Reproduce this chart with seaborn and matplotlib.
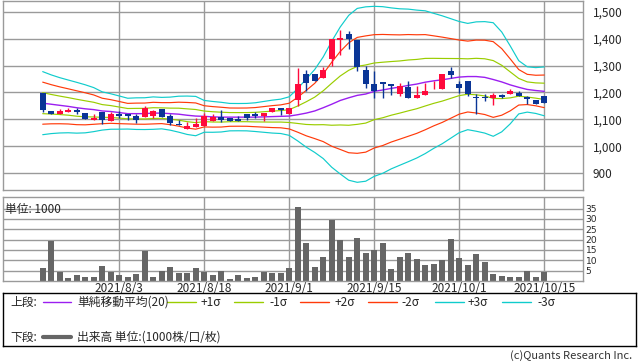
import numpy as np
import pandas as pd
import matplotlib
matplotlib.use('Agg')
import matplotlib.pyplot as plt
import seaborn as sns

# trading days (Japanese market holidays skipped)
holidays = ['2021-07-22', '2021-07-23', '2021-08-09', '2021-09-20', '2021-09-23']
dates = pd.bdate_range('2021-07-19', '2021-10-15', freq='C', holidays=holidays)

opens = [1197, 1130, 1119, 1126, 1135, 1123, 1099, 1127, 1094, 1120,
         1120, 1111, 1109, 1114, 1140, 1111, 1083, 1064, 1072, 1074,
         1094, 1110, 1105, 1100, 1119, 1119, 1111, 1126, 1143, 1121,
         1173, 1267, 1267, 1253, 1325, 1394, 1417, 1395, 1285, 1232,
         1237, 1232, 1195, 1220, 1179, 1191, 1241, 1212, 1281, 1230,
         1241, 1183, 1183, 1179, 1189, 1195, 1197, 1183, 1170, 1185]
highs = [1199, 1130, 1140, 1142, 1141, 1123, 1118, 1127, 1127, 1129,
         1120, 1120, 1148, 1136, 1140, 1121, 1099, 1089, 1106, 1125,
         1118, 1133, 1105, 1111, 1119, 1126, 1125, 1143, 1143, 1143,
         1291, 1284, 1267, 1294, 1399, 1432, 1430, 1395, 1300, 1281,
         1237, 1232, 1235, 1244, 1222, 1235, 1244, 1270, 1296, 1244,
         1244, 1193, 1195, 1197, 1195, 1211, 1204, 1187, 1170, 1185]
lows = [1127, 1119, 1119, 1126, 1119, 1101, 1099, 1081, 1094, 1106,
        1099, 1086, 1109, 1104, 1109, 1080, 1079, 1064, 1072, 1074,
        1094, 1090, 1094, 1095, 1099, 1106, 1094, 1126, 1117, 1121,
        1148, 1207, 1244, 1253, 1300, 1341, 1362, 1279, 1216, 1179,
        1180, 1192, 1185, 1179, 1179, 1191, 1211, 1212, 1254, 1198,
        1185, 1119, 1168, 1155, 1179, 1195, 1187, 1156, 1157, 1160]
closes = [1133, 1119, 1131, 1133, 1127, 1101, 1106, 1099, 1119, 1114,
          1112, 1099, 1142, 1130, 1109, 1086, 1079, 1074, 1083, 1111,
          1109, 1099, 1094, 1095, 1103, 1111, 1125, 1143, 1133, 1143,
          1230, 1234, 1244, 1284, 1399, 1403, 1399, 1296, 1232, 1207,
          1232, 1223, 1222, 1179, 1191, 1204, 1244, 1267, 1264, 1217,
          1193, 1179, 1181, 1191, 1183, 1205, 1187, 1175, 1157, 1160]
volume = [6.3, 19.3, 4.3, 1.5, 2.7, 1.9, 1.9, 7.2, 4.2, 2.7,
          1.9, 3.2, 14.5, 1.9, 4.8, 6.8, 3.9, 3.9, 6.3, 4.3,
          2.7, 4.8, 0.8, 2.7, 1.5, 1.9, 4.3, 3.9, 3.9, 6.3,
          35.6, 18.4, 6.8, 11.6, 29.5, 19.8, 11.6, 20.8, 13.5, 15.0,
          18.4, 5.8, 11.6, 13.5, 10.6, 7.7, 8.2, 10.1, 20.3, 11.1,
          7.7, 13.0, 9.2, 3.2, 2.4, 1.9, 1.9, 4.8, 1.9, 4.3]
# 20-day simple moving average and its standard deviation
sma20 = [1160, 1156, 1152, 1148, 1143, 1139, 1136, 1131, 1129, 1125,
         1121, 1121, 1121, 1123, 1123, 1121, 1119, 1115, 1112, 1111,
         1109, 1108, 1108, 1108, 1108, 1108, 1109, 1110, 1111, 1112,
         1117, 1123, 1131, 1143, 1156, 1170, 1180, 1189, 1194, 1204,
         1209, 1215, 1220, 1226, 1231, 1238, 1243, 1247, 1252, 1257,
         1259, 1259, 1256, 1248, 1239, 1228, 1219, 1211, 1207, 1204]
sigma20 = [39.1, 36.4, 34.3, 32.7, 31.5, 29.8, 27.3, 23.7, 22.0, 20.6,
           19.1, 19.6, 19.7, 20.1, 19.5, 20.5, 22.3, 23.8, 24.4, 19.7,
           19.1, 18.4, 17.0, 16.9, 17.0, 17.8, 19.1, 20.4, 21.3, 23.9,
           32.5, 42.2, 51.4, 63.0, 78.1, 91.1, 102.2, 107.8, 108.1, 105.4,
           103.3, 99.8, 97.0, 94.6, 91.7, 88.5, 83.7, 79.3, 74.1, 68.9,
           65.9, 67.8, 69.1, 70.4, 61.9, 48.3, 33.0, 28.1, 28.4, 30.3]

up_color = '#ff0a3c'
down_color = '#0a3596'
grid_color = '#9a9a9a'
band_colors = {'sma': '#9b1ef0', 1: '#9acd00', 2: '#ff3a0a', 3: '#10cccc'}

sns.set_style('white')
plt.rcParams['font.family'] = ['Noto Sans CJK JP', 'DejaVu Sans']
plt.rcParams['font.size'] = 8

df = pd.DataFrame({'date': dates, 'open': opens, 'high': highs, 'low': lows,
                   'close': closes, 'volume': volume, 'sma': sma20, 'sd': sigma20})
df['idx'] = np.arange(len(df))

W, H = 638, 362
fig = plt.figure(figsize=(W / 100, H / 100), dpi=100)
ax = fig.add_axes([3 / W, 1 - 190 / H, 580 / W, 189 / H])
axv = fig.add_axes([3 / W, 1 - 281 / H, 580 / W, 84 / H])

# bollinger bands
for k in [3, 2, 1]:
    for sign in [1, -1]:
        sns.lineplot(x=df['idx'], y=df['sma'] + sign * k * df['sd'], ax=ax,
                     color=band_colors[k], linewidth=0.85)
sns.lineplot(x='idx', y='sma', data=df, ax=ax, color=band_colors['sma'], linewidth=1.0)

# candles
cols = np.where(df['close'] >= df['open'], up_color, down_color)
ax.vlines(df['idx'], df['low'], df['high'], colors=cols, linewidth=1.0, zorder=3)
body = (df['close'] - df['open']).abs().clip(lower=2.5)
ax.bar(df['idx'], body, bottom=df[['open', 'close']].min(axis=1), width=0.72,
       color=cols, linewidth=0, zorder=4)

tick_pos = df['idx'][9::10].tolist()
tick_lab = [f'{d.year}/{d.month}/{d.day}' for d in df['date'][9::10]]

xlim = (-4.67, 63.56)
ax.set_xlim(*xlim)
ax.set_ylim(837, 1540)
ax.set_xticks(tick_pos)
ax.set_xticklabels([])
ax.set_yticks(range(900, 1501, 100))
ax.set_yticklabels([f'{v:,}' for v in range(900, 1501, 100)])
ax.yaxis.tick_right()
ax.tick_params(axis='y', length=0, pad=7, labelsize=8.5)
ax.tick_params(axis='x', length=0)
ax.grid(True, color=grid_color, linewidth=1.0)
ax.set_axisbelow(True)
ax.set_xlabel('')
ax.set_ylabel('')

# volume
sns.barplot(x='idx', y='volume', data=df, ax=axv, native_scale=True, color='#666666',
            width=0.72, saturation=1, linewidth=0)
axv.set_xlim(*xlim)
axv.set_ylim(0, 40.6)
axv.set_xticks(tick_pos)
axv.set_xticklabels(tick_lab, fontsize=8.5)
axv.set_yticks(range(5, 36, 5))
axv.set_yticklabels([str(v) for v in range(5, 36, 5)], family='DejaVu Sans', fontsize=6.6)
axv.yaxis.tick_right()
axv.tick_params(axis='y', length=0, pad=2)
axv.tick_params(axis='x', length=0, pad=0.5)
axv.grid(True, color=grid_color, linewidth=1.0)
axv.set_axisbelow(True)
axv.set_xlabel('')
axv.set_ylabel('')
axv.text(0.004, 0.855, '単位: 1000', transform=axv.transAxes, va='center', ha='left',
         fontsize=8.5, zorder=5)

for a in (ax, axv):
    for s in a.spines.values():
        s.set_color(grid_color)
        s.set_linewidth(1.0)

# legend box
lg = fig.add_axes([3 / W, 1 - 346 / H, 633 / W, 53 / H])
lg.set_xticks([])
lg.set_yticks([])
for s in lg.spines.values():
    s.set_color('black')
    s.set_linewidth(1.0)
lg.set_xlim(3, 636)
lg.set_ylim(346, 293)

r1, r2 = 302, 337
lg.text(10, r1, '上段:', va='center', fontsize=8.5)
lg.plot([43, 71], [r1, r1], color=band_colors['sma'], lw=1)
lg.text(77, r1, '単純移動平均(20)', va='center', fontsize=8.5)
items = [('+1σ', 1, 167, 201), ('-1σ', 1, 234, 269), ('+2σ', 2, 300, 335),
         ('-2σ', 2, 368, 401), ('+3σ', 3, 435, 468), ('-3σ', 3, 502, 537)]
for lab, k, x0, xt in items:
    lg.plot([x0, x0 + 29], [r1, r1], color=band_colors[k], lw=1)
    lg.text(xt, r1, lab, va='center', fontsize=8.5)
lg.text(10, r2, '下段:', va='center', fontsize=8.5)
lg.plot([43, 71], [r2, r2], color='#666666', lw=3)
lg.text(77, r2, '出来高 単位:(1000株/口/枚)', va='center', fontsize=8.5)

fig.text(632 / W, 1 - 356 / H, '(c)Quants Research Inc.', ha='right', va='center',
         fontsize=8, color='#333333')

fig.savefig('out.png', dpi=100)
